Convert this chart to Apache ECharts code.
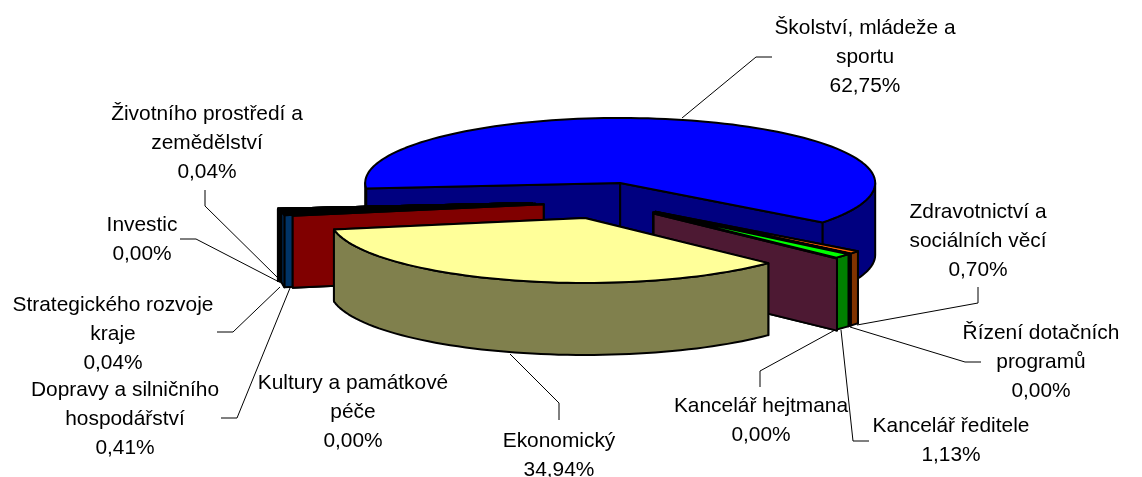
<!DOCTYPE html>
<html>
<head>
<meta charset="utf-8">
<title>Podíl odborů</title>
<script src="https://cdn.jsdelivr.net/npm/echarts@6/dist/echarts.min.js"></script>
<style>
  html, body { margin: 0; padding: 0; background: #fff; }
  #chart { width: 1142px; height: 477px; }
</style>
</head>
<body>
<div id="chart"></div>
<script>
// slices clockwise, starting at the big blue one
const names = [
  ['Školství, mládeže a', 'sportu'],
  ['Zdravotnictví a', 'sociálních věcí'],
  ['Řízení dotačních', 'programů'],
  ['Kancelář ředitele'],
  ['Kancelář hejtmana'],
  ['Ekonomický'],
  ['Kultury a památkové', 'péče'],
  ['Dopravy a silničního', 'hospodářství'],
  ['Strategického rozvoje', 'kraje'],
  ['Investic'],
  ['Životního prostředí a', 'zemědělství']
];
const shares = [62.75, 0.70, 0.00, 1.13, 0.00, 34.94, 0.00, 0.41, 0.04, 0.00, 0.04];

const topColors = ['#0000FF', '#FF6600', '#000000', '#00FF00', '#000000', '#FFFF99', '#000000', '#000000', '#000000', '#000000', '#000000'];
const sideColors = ['#000080', '#803300', '#000000', '#008000', '#4D1933', '#80804D', '#800000', '#003366', '#000000', '#000000', '#000000'];

// pie projection, px
const center = [604.7, 201.4];
const rx = 255, ry = 65, depth = 72;
const startAngle = 175; // degrees, clockwise from east on screen
// old Excel 3D pie draws the left slivers wider than their share
const spanAdjust = [-3.47, 0, 0, 0, 0, 0, 0, 3.47, 0, 0, 0];
const explode = [68, 65, 65, 65, 68, 68, 62, 70, 73, 73, 73];
const blueNudge = [-3.5, -1.8];
// back to front
const paintOrder = [0, 1, 2, 3, 4, 10, 9, 8, 7, 6, 5];

// label layout: centre x, middle of first row y, row step
const labelX = [865, 978, 1041, 951, 761, 559, 353, 125, 113, 142, 207];
const labelY = [28, 212, 333, 426, 406, 441, 383, 390, 305, 225, 114];
const labelStep = 29.3;
const leaders = [
  [[682, 118], [756, 57], [772, 57]],
  [[857, 325], [978, 303], [978, 287]],
  [[850, 327], [965, 362], [981, 362]],
  [[841, 330], [853, 441], [869, 441]],
  [[835, 330], [760, 371], [760, 387]],
  [[510, 354], [559, 403], [559, 420]],
  null,
  [[290, 288], [237, 418], [221, 418]],
  [[280, 287], [233, 332], [217, 332]],
  [[285, 285], [196, 239], [180, 239]],
  [[278, 278], [205, 206], [205, 190]]
];

const rad = d => d * Math.PI / 180;
const spans = shares.map((s, i) => echarts.number.linearMap(s, [0, 100], [0, 360]) + spanAdjust[i]);
const starts = [];
spans.reduce((a, s, i) => { starts[i] = a; return a + s; }, startAngle);

const arc = (c, a, b, dy) => {
  const n = Math.max(1, Math.ceil((b - a) / 2));
  const pts = [];
  for (let k = 0; k <= n; k++) {
    const t = rad(a + (b - a) * k / n);
    pts.push([c[0] + rx * Math.cos(t), c[1] + ry * Math.sin(t) + dy]);
  }
  return pts;
};

const renderSlice = (params, api) => {
  const i = api.value(0);
  const a = starts[i], b = a + spans[i];
  const mid = rad((a + b) / 2);
  const c = [center[0] + explode[i] * Math.cos(mid), center[1] + explode[i] * (ry / rx) * Math.sin(mid)];
  if (i === 0) { c[0] += blueNudge[0]; c[1] += blueNudge[1]; }
  const line = { stroke: '#000', lineWidth: 2, lineJoin: 'round' };
  const poly = (points, fill) => ({
    type: 'polygon',
    shape: { points },
    style: Object.assign({ fill }, line)
  });
  const children = [];

  // cut faces, the lower rim last
  [a, b].sort((p, q) => Math.sin(rad(p)) - Math.sin(rad(q))).forEach(d => {
    const t = rad(d);
    const rim = [c[0] + rx * Math.cos(t), c[1] + ry * Math.sin(t)];
    children.push(poly([c, rim, [rim[0], rim[1] + depth], [c[0], c[1] + depth]], sideColors[i]));
  });

  // outer wall, front half only
  [[0, 180], [360, 540]].forEach(([lo, hi]) => {
    const p = Math.max(a, lo), q = Math.min(b, hi);
    if (q > p) {
      children.push(poly(arc(c, p, q, 0).concat(arc(c, p, q, depth).reverse()), sideColors[i]));
    }
  });

  children.push(poly([c].concat(arc(c, a, b, 0)), topColors[i]));
  return { type: 'group', children };
};

const percentText = v => v.toFixed(2).replace('.', ',') + '%';

const graphics = [];
names.forEach((rows, i) => {
  rows.concat(percentText(shares[i])).forEach((text, r) => {
    graphics.push({
      type: 'text',
      x: labelX[i],
      y: labelY[i] + r * labelStep,
      style: {
        text,
        fill: '#000',
        font: '20.9px "Liberation Sans", Arial, sans-serif',
        align: 'center',
        verticalAlign: 'middle'
      }
    });
  });
  if (leaders[i]) {
    graphics.push({
      type: 'polyline',
      shape: { points: leaders[i] },
      style: { stroke: '#000', lineWidth: 1, fill: null }
    });
  }
});

const chart = echarts.init(document.getElementById('chart'), null, { renderer: 'canvas' });
chart.setOption({
  animation: false,
  backgroundColor: '#fff',
  series: [{
    type: 'custom',
    coordinateSystem: 'none',
    silent: true,
    data: paintOrder.map(i => [i]),
    renderItem: renderSlice
  }],
  graphic: graphics
});
</script>
</body>
</html>
